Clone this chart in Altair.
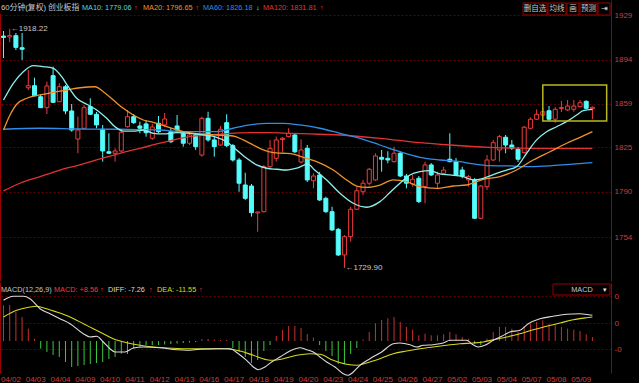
import altair as alt
import pandas as pd

# ---------------- data ----------------
dates = ["04/02", "04/03", "04/04", "04/09", "04/10", "04/11", "04/12", "04/13",
         "04/16", "04/17", "04/18", "04/19", "04/20", "04/23", "04/24", "04/25",
         "04/26", "04/27", "05/02", "05/03", "05/04", "05/07", "05/08", "05/09"]

opens = [1912.5, 1911.8, 1912.8, 1903.3, 1871.8, 1873.4, 1864.7, 1856.1, 1881.3, 1860.8,
         1872.6, 1853.5, 1831.4, 1839.9, 1856.9, 1850.9, 1839.1, 1821.4, 1820.2, 1822.0,
         1841.1, 1849.0, 1841.7, 1843.3, 1832.0, 1843.8, 1842.5, 1837.2, 1841.7, 1835.9,
         1828.1, 1834.6, 1818.8, 1847.7, 1830.7, 1826.7, 1844.3, 1826.2, 1814.9, 1795.2,
         1794.4, 1773.2, 1774.2, 1809.6, 1816.2, 1831.0, 1833.3, 1834.6, 1813.3, 1824.1,
         1798.6, 1803.1, 1784.7, 1774.2, 1760.3, 1740.1, 1754.5, 1776.1, 1789.9, 1796.6,
         1799.2, 1817.0, 1816.2, 1813.6, 1820.2, 1802.3, 1796.0, 1800.5, 1793.9, 1811.0,
         1796.6, 1804.4, 1815.5, 1813.6, 1807.0, 1799.2, 1799.2, 1769.0, 1793.9, 1814.9,
         1822.8, 1832.8, 1826.7, 1823.3, 1820.7, 1839.9, 1847.0, 1850.3, 1853.7, 1847.0,
         1855.5, 1854.3, 1854.8, 1856.9, 1861.1, 1855.3]

closes = [1911.4, 1912.9, 1903.6, 1902.1, 1873.4, 1865.5, 1856.1, 1873.2, 1860.3, 1872.6,
          1853.5, 1838.5, 1838.5, 1856.1, 1850.9, 1842.5, 1822.0, 1820.2, 1822.0, 1836.7,
          1849.0, 1844.3, 1839.9, 1836.4, 1840.9, 1837.2, 1847.2, 1829.3, 1838.5, 1828.1,
          1834.6, 1825.4, 1847.7, 1830.7, 1825.4, 1839.1, 1826.2, 1814.9, 1796.6, 1784.7,
          1773.4, 1774.0, 1809.6, 1824.1, 1830.7, 1832.0, 1835.9, 1821.4, 1822.8, 1799.2,
          1802.3, 1783.4, 1774.2, 1759.8, 1740.1, 1754.5, 1776.1, 1790.7, 1796.6, 1807.6,
          1818.1, 1815.5, 1814.9, 1820.2, 1802.3, 1796.6, 1799.7, 1782.1, 1811.0, 1803.1,
          1803.1, 1807.0, 1813.6, 1803.1, 1802.3, 1801.8, 1769.0, 1794.4, 1814.9, 1828.5,
          1833.3, 1826.7, 1824.1, 1815.5, 1840.7, 1847.0, 1850.9, 1852.9, 1847.0, 1854.8,
          1856.2, 1857.4, 1857.4, 1860.0, 1855.6, 1856.4]

highs = [1916.5, 1918.22, 1914.9, 1914.9, 1885.8, 1879.7, 1866.9, 1876.6, 1888.4, 1875.3,
         1874.0, 1859.0, 1849.0, 1858.2, 1863.5, 1852.7, 1842.5, 1835.9, 1824.1, 1837.7,
         1854.3, 1851.1, 1845.1, 1846.4, 1843.3, 1849.6, 1851.9, 1840.1, 1850.3, 1837.7,
         1837.2, 1836.2, 1849.0, 1852.9, 1833.3, 1841.7, 1850.9, 1827.5, 1816.5, 1804.9,
         1796.0, 1774.0, 1811.0, 1830.7, 1833.3, 1833.0, 1839.9, 1836.2, 1831.2, 1826.7,
         1804.4, 1805.5, 1786.0, 1778.1, 1761.4, 1755.8, 1778.1, 1793.9, 1799.2, 1808.6,
         1820.2, 1822.8, 1821.8, 1825.4, 1821.2, 1803.9, 1803.1, 1802.3, 1813.6, 1812.5,
         1805.7, 1809.6, 1835.9, 1816.5, 1809.6, 1803.1, 1800.7, 1795.2, 1818.8, 1830.7,
         1834.6, 1834.6, 1830.7, 1825.1, 1841.7, 1848.5, 1854.8, 1855.9, 1857.4, 1856.6,
         1861.4, 1862.1, 1862.1, 1862.1, 1861.8, 1857.0]

lows = [1895.2, 1907.8, 1901.5, 1893.6, 1870.0, 1865.3, 1855.9, 1851.1, 1859.8, 1860.6,
        1850.9, 1837.2, 1820.2, 1839.3, 1850.3, 1839.9, 1813.6, 1819.6, 1813.6, 1821.2,
        1840.5, 1843.3, 1835.9, 1833.3, 1830.7, 1836.2, 1840.9, 1828.3, 1837.7, 1825.4,
        1826.7, 1822.8, 1817.5, 1829.3, 1817.5, 1825.9, 1825.1, 1813.6, 1789.9, 1783.4,
        1770.3, 1758.4, 1773.6, 1808.6, 1813.6, 1821.4, 1832.6, 1820.4, 1812.3, 1797.6,
        1792.6, 1782.6, 1773.2, 1759.0, 1739.3, 1729.9, 1750.6, 1775.5, 1787.3, 1795.2,
        1798.4, 1805.7, 1812.3, 1813.0, 1801.5, 1792.6, 1793.9, 1781.0, 1780.8, 1802.3,
        1792.6, 1803.9, 1813.0, 1802.3, 1800.5, 1793.9, 1768.4, 1768.4, 1791.3, 1814.1,
        1813.6, 1820.2, 1822.8, 1813.3, 1820.0, 1839.0, 1846.4, 1849.6, 1845.6, 1844.3,
        1852.7, 1853.5, 1852.9, 1856.2, 1855.1, 1847.0]

# moving-average lines (candle position, value)
ma10_pos = [0, 1.58, 3.19, 4.81, 6.42, 8.03, 9.39, 10.45, 11.81, 13.42, 15.03, 16.65, 17.98,
            19.32, 20.94, 22.55, 24.16, 25.77, 27.94, 30.08, 32.23, 34.39, 36.0, 37.61, 39.23,
            40.84, 42.45, 44.06, 45.68, 47.29, 49.1, 50.2, 52.13, 54.27, 56.42, 58.58, 60.73,
            62.34, 63.95, 65.56, 67.18, 68.79, 70.4, 72.02, 74.16, 75.77, 77.39, 79.55, 81.16,
            82.77, 84.39, 86.0, 87.61, 89.23, 90.84, 92.45, 93.52, 95]
ma10_val = [1862.1, 1875.3, 1884.4, 1889.2, 1888.4, 1887.1, 1880.5, 1872.6, 1863.5, 1858.8,
            1854.3, 1847.7, 1841.1, 1837.7, 1837.7, 1838.5, 1835.9, 1835.4, 1836.4, 1835.9,
            1834.6, 1832.8, 1829.3, 1822.8, 1816.2, 1811.0, 1808.4, 1807.6, 1807.0, 1808.4,
            1811.7, 1807.0, 1799.2, 1788.7, 1780.8, 1777.7, 1782.1, 1789.3, 1796.6, 1803.1,
            1805.7, 1806.5, 1803.9, 1803.1, 1801.8, 1799.2, 1800.5, 1804.4, 1807.0, 1809.6,
            1820.2, 1830.7, 1837.2, 1841.1, 1845.1, 1850.3, 1853.7, 1854.8]

ma20_pos = [0, 1.05, 2.13, 3.74, 5.89, 8.03, 10.19, 12.34, 14.76, 16.1, 17.71, 19.32, 20.94,
            22.55, 24.16, 26.32, 29.0, 31.69, 34.39, 37.06, 38.68, 40.29, 41.9, 43.52, 45.13,
            46.74, 48.35, 50.52, 53.19, 55.35, 56.97, 58.58, 60.73, 62.87, 65.03, 67.18, 69.87,
            72.55, 74.71, 77.39, 80.08, 82.77, 85.45, 88.15, 90.84, 93.26, 95]
ma20_val = [1838.5, 1850.3, 1858.8, 1863.5, 1866.1, 1868.2, 1870.0, 1871.8, 1872.6, 1868.7,
            1862.1, 1855.6, 1850.3, 1846.4, 1844.6, 1841.1, 1837.2, 1835.4, 1834.6, 1833.8,
            1830.7, 1826.7, 1822.8, 1820.7, 1820.2, 1819.6, 1817.0, 1813.6, 1807.0, 1799.2,
            1794.4, 1793.4, 1795.2, 1799.2, 1797.8, 1793.9, 1792.6, 1794.4, 1795.2, 1799.7,
            1801.8, 1807.0, 1814.9, 1821.4, 1828.1, 1833.3, 1837.2]

ma60_pos = [0, 5.89, 12.34, 18.79, 25.24, 29.0, 34.39, 37.06, 39.76, 42.45, 45.13, 47.82,
            51.05, 54.27, 57.5, 60.73, 63.95, 67.18, 70.4, 73.63, 75.24, 78.47, 81.69, 84.92,
            88.15, 91.37, 95]
ma60_val = [1839.1, 1839.9, 1839.3, 1839.1, 1838.5, 1837.2, 1837.2, 1839.9, 1842.5, 1843.8,
            1843.8, 1842.5, 1839.9, 1835.9, 1832.0, 1826.7, 1821.4, 1817.0, 1814.9, 1813.6,
            1812.3, 1810.4, 1810.2, 1809.6, 1810.2, 1811.5, 1812.8]

ma120_pos = [0, 2.66, 5.89, 9.11, 12.34, 15.56, 18.79, 22.02, 25.24, 30.08, 33.31, 36.53,
             39.76, 43.0, 46.21, 49.44, 54.27, 60.73, 67.18, 72.02, 78.47, 84.92, 95]
ma120_val = [1790.5, 1796.6, 1801.8, 1807.0, 1811.0, 1815.7, 1820.2, 1824.1, 1828.1, 1833.3,
             1834.6, 1835.9, 1836.4, 1836.4, 1835.9, 1835.4, 1834.6, 1832.0, 1828.5, 1826.7,
             1824.9, 1824.1, 1824.1]

macd_hist = [35.7, 36, 29, 24, 12.3, 2.3, -7.7, -11, -14, -16, -21, -26, -25, -24, -23, -22,
             -21, -18, -16, -12.7, -13, -7.7, -6, -4.3, -4, -4, -3.5, -3, -2.5, -2, -1.5, -1,
             2, 2, 1.5, 1, 1, -7, -11, -16, -22, -19, -10, -4, 5, 11, 15, 15, 13, 7, 3.5, -4,
             -10, -15, -23, -23, -13, -7, 1.5, 9, 17.7, 21, 22.7, 24, 19, 14, 11.3, 5.7, 7.3,
             5.7, 5.7, 6.7, 9, 6.7, 4, 2.3, -2.7, -4.3, 2.3, 9, 14, 14, 12.3, 9, 14.7, 17.3,
             19, 20.7, 17.3, 15.7, 14, 12.3, 11.3, 10, 6.7, 4]

diff_pos = [0, 1.59, 3.2, 4.27, 5.89, 7.5, 9.11, 10.73, 12.88, 13.95, 15.03, 16.1, 17.18,
            17.98, 19.6, 20.94, 22.55, 25.24, 27.93, 29.54, 31.69, 34.38, 36.53, 37.88, 39.22,
            40.3, 41.1, 42.18, 43.25, 44.6, 46.21, 47.82, 48.9, 50.24, 51.05, 52.13, 53.47,
            54.81, 55.62, 56.43, 57.5, 59.11, 61.0, 62.88, 63.95, 65.57, 66.64, 67.72, 69.33,
            70.94, 72.02, 74.71, 75.51, 76.59, 77.66, 79.01, 80.35, 81.69, 83.31, 84.65, 86.53,
            88.68, 90.83, 92.98, 95]
diff_val = [40.7, 44.7, 44.7, 42.3, 32.3, 27.3, 22.3, 17.3, 7.3, 4.0, 4.7, -1.0, -7.7, -11.0,
            -11.0, -7.0, -6.0, -6.7, -8.7, -9.3, -8.3, -7.7, -7.7, -12.7, -19.3, -26.0, -28.7,
            -26.0, -21.0, -16.0, -10.0, -6.7, -8.7, -12.0, -16.0, -21.0, -26.0, -32.7, -34.3,
            -31.0, -24.3, -17.7, -11.0, -2.7, -2.0, -3.7, -6.0, -4.3, -3.7, -2.0, 0.7, 0.7,
            -2.7, -6.0, -4.3, 0.7, 4.7, 9.0, 10.7, 17.3, 22.3, 24.7, 26.7, 27.3, 25.7]

dea_pos = [0, 2.12, 4.27, 5.35, 6.96, 8.57, 10.73, 12.88, 14.49, 16.1, 17.71, 19.86, 22.02,
           24.17, 26.32, 29.54, 32.77, 36.0, 38.15, 40.3, 42.45, 43.52, 45.13, 47.28, 49.43,
           51.05, 53.2, 55.35, 56.96, 58.58, 60.73, 62.88, 65.03, 67.18, 69.33, 71.48, 73.63,
           75.78, 77.39, 79.01, 81.16, 83.31, 85.46, 87.61, 89.76, 91.91, 94.06, 95]
dea_val = [24.0, 30.7, 34.0, 34.7, 32.3, 29.0, 24.0, 17.3, 12.3, 7.3, 2.3, -1.7, -4.3, -6.0,
           -7.0, -7.7, -7.7, -7.7, -10.0, -14.3, -18.7, -19.3, -17.7, -14.3, -12.7, -13.3,
           -19.3, -23.3, -24.3, -22.0, -17.7, -12.7, -10.0, -7.7, -6.0, -4.3, -2.7, -2.0, -1.0,
           1.3, 4.0, 7.3, 11.3, 14.7, 18.0, 21.3, 23.3, 24.0]

price_ticks = [1929, 1894, 1859, 1825, 1790, 1754]
macd_ticks = [45, 18, -8]
box_pos = [87.0, 97.3]
box_price = [1845.6, 1874.0]

# ---------------- styling ----------------
BG = "#000000"
RED = "#f03c3c"
CYAN = "#54fcfc"
C_MA10 = "#8ef0ea"
C_MA20 = "#f0922a"
C_MA60 = "#2f8de8"
C_MA120 = "#e23232"
AXIS_RED = "#d23c3c"
FRAME = "#9a0000"
GRID = "#5a0000"
FONT = "Liberation Sans, Noto Sans CJK SC"
FS = 7.3
W = 611
H1 = 281
H2 = 90

xscale = alt.Scale(domain=[-0.565, 98.0], nice=False, zero=False, padding=0)
pscale = alt.Scale(domain=[1719.6, 1940.9], nice=False, zero=False, padding=0)
mscale = alt.Scale(domain=[-32, 58], nice=False, zero=False, padding=0)

n = len(opens)
candles = pd.DataFrame({
    "idx": list(range(n)), "open": opens, "close": closes, "high": highs, "low": lows,
    "dir": ["up" if c >= o else "down" for o, c in zip(opens, closes)],
})

X = alt.X("idx:Q", scale=xscale, axis=None)


def one():
    return alt.Data(values=[{}])


def label(text, x, y, color, size=FS, align="left", baseline="middle"):
    return alt.Chart(one()).mark_text(
        text=text, color=color, fontSize=size, font=FONT, align=align, baseline=baseline
    ).encode(x=alt.value(x), y=alt.value(y))


def box(x1, x2, y1, y2, color=FRAME):
    return alt.Chart(one()).mark_rect(fillOpacity=0, stroke=color, strokeWidth=1).encode(
        x=alt.value(x1), x2=alt.value(x2), y=alt.value(y1), y2=alt.value(y2))


yaxis_main = alt.Axis(orient="right", values=price_ticks, format=".0f", labelColor=AXIS_RED,
                      labelFont=FONT, labelFontSize=8, tickSize=0, labelPadding=3,
                      domainColor=FRAME, grid=True, gridColor=GRID, gridDash=[2, 2],
                      title=None)

wicks = alt.Chart(candles).mark_rule(strokeWidth=1).encode(
    x=alt.X("idx:Q", scale=xscale,
            axis=alt.Axis(labels=False, ticks=False, grid=False, domainColor=FRAME, title=None)),
    y=alt.Y("low:Q", scale=pscale, axis=yaxis_main),
    y2="high:Q",
    color=alt.Color("dir:N", scale=alt.Scale(domain=["up", "down"], range=[RED, CYAN]), legend=None),
)
bodies = alt.Chart(candles).mark_bar(size=4, strokeWidth=1).encode(
    x=X, y=alt.Y("open:Q", scale=pscale), y2="close:Q",
    fill=alt.condition("datum.dir == 'up'", alt.value(BG), alt.value(CYAN)),
    stroke=alt.condition("datum.dir == 'up'", alt.value(RED), alt.value(CYAN)),
)


def ma_line(pos, val, color):
    df = pd.DataFrame({"idx": pos, "v": val})
    return alt.Chart(df).mark_line(color=color, strokeWidth=1.3, interpolate="monotone").encode(
        x=X, y=alt.Y("v:Q", scale=pscale))


hi_df = pd.DataFrame({"idx": [1], "v": [highs[1]], "t": ["\u2190" + "1918.22"]})
lo_df = pd.DataFrame({"idx": [55], "v": [lows[55]], "t": ["\u2190" + "1729.90"]})
hi_txt = alt.Chart(hi_df).mark_text(align="left", dx=1, color="#c8c8c8", fontSize=8, font=FONT).encode(
    x=X, y=alt.Y("v:Q", scale=pscale), text="t:N")
lo_txt = alt.Chart(lo_df).mark_text(align="left", dx=1, color="#c8c8c8", fontSize=8, font=FONT).encode(
    x=X, y=alt.Y("v:Q", scale=pscale), text="t:N")

box_df = pd.DataFrame({"x1": [box_pos[0]], "x2": [box_pos[1]], "y1": [box_price[0]], "y2": [box_price[1]]})
ybox = alt.Chart(box_df).mark_rect(fillOpacity=0, stroke="#b8b81e", strokeWidth=1.5).encode(
    x=alt.X("x1:Q", scale=xscale), x2="x2:Q", y=alt.Y("y1:Q", scale=pscale), y2="y2:Q")

left_main = alt.Chart(one()).mark_rule(color=FRAME, strokeWidth=1).encode(
    x=alt.value(0.5), y=alt.value(14), y2=alt.value(H1))

header = [
    label("60分钟(复权)", 1, 8, "#c8c8c8", size=7.8),
    label("创业板指", 48, 8, "#c8c8c8", size=7.8),
    label("MA10: 1779.06", 82, 8, "#5cd6d2"),
    label("\u2191", 134, 8, RED),
    label("MA20: 1796.65", 143, 8, C_MA20),
    label("\u2191", 195.5, 8, RED),
    label("MA60: 1826.18", 203, 8, C_MA60),
    label("\u2193", 256, 8, CYAN),
    label("MA120: 1831.81", 263, 8, C_MA120),
    label("\u2191", 320, 8, RED),
    box(523, 547, 3, 15), label("删自选", 535, 9, "#c8c8c8", size=7.5, align="center"),
    box(548, 566, 3, 15), label("均线", 557, 9, "#c8c8c8", size=7.5, align="center"),
    box(567, 579, 3, 15), label("画", 573, 9, "#c8c8c8", size=7.5, align="center"),
    box(580, 597, 3, 15), label("预测", 588.5, 9, "#c8c8c8", size=7.5, align="center"),
    box(598, 610, 3, 15), label("\u21e5", 604, 9, "#e0e0e0", size=8, align="center"),
]

main = alt.layer(
    wicks, bodies,
    ma_line(ma120_pos, ma120_val, C_MA120),
    ma_line(ma60_pos, ma60_val, C_MA60),
    ma_line(ma20_pos, ma20_val, C_MA20),
    ma_line(ma10_pos, ma10_val, C_MA10),
    ybox, hi_txt, lo_txt, left_main, *header,
).properties(width=W, height=H1)

# ---------------- MACD panel ----------------
mdf = pd.DataFrame({"idx": list(range(n)), "h": macd_hist})
xaxis_macd = alt.Axis(labels=False, ticks=False, grid=False, domainColor=FRAME, title=None)
yaxis_macd = alt.Axis(orient="right", values=macd_ticks,
                      labelExpr="datum.value < 0 ? '-0' : '0'",
                      labelColor=AXIS_RED, labelFont=FONT, labelFontSize=8, tickSize=0,
                      labelPadding=3, domainColor=FRAME, grid=True, gridColor=GRID,
                      gridDash=[2, 2], title=None)

hist = alt.Chart(mdf).mark_rule(strokeWidth=1).encode(
    x=alt.X("idx:Q", scale=xscale, axis=xaxis_macd),
    y=alt.Y("h:Q", scale=mscale, axis=yaxis_macd),
    y2=alt.datum(0),
    color=alt.condition("datum.h > 0", alt.value("#c83030"), alt.value("#3cc83c")),
)
dea_line = alt.Chart(pd.DataFrame({"idx": dea_pos, "v": dea_val})).mark_line(
    color="#d8d81c", strokeWidth=1.1, interpolate="monotone").encode(
    x=X, y=alt.Y("v:Q", scale=mscale))
diff_line = alt.Chart(pd.DataFrame({"idx": diff_pos, "v": diff_val})).mark_line(
    color="#dcdcdc", strokeWidth=1.1, interpolate="monotone").encode(
    x=X, y=alt.Y("v:Q", scale=mscale))

# date labels: one per trading day, placed at the day's first candles
date_df = pd.DataFrame({"idx": [1.2 + 4 * k for k in range(len(dates))], "d": dates})
date_txt = alt.Chart(date_df).mark_text(
    color=AXIS_RED, fontSize=8, font=FONT, align="center", baseline="middle"
).encode(x=X, y=alt.value(H2 + 6.5), text="d:N")

left_macd = alt.Chart(one()).mark_rule(color=FRAME, strokeWidth=1).encode(
    x=alt.value(0.5), y=alt.value(0), y2=alt.value(H2))

macd_header = [
    label("MACD(12,26,9)", 1, 7, "#c8c8c8"),
    label("MACD: +8.56", 54, 7, RED),
    label("\u2191", 100, 7, RED),
    label("DIFF: -7.26", 108, 7, "#d8d8d8"),
    label("\u2191", 149, 7, RED),
    label("DEA: -11.55", 157, 7, "#d8d81c"),
    label("\u2191", 199, 7, RED),
    box(553, 610, 1, 12),
    label("MACD", 582, 6.5, "#c8c8c8", align="center"),
    label("\u25be", 605, 6.5, "#e0e0e0", align="center"),
]

macd = alt.layer(hist, dea_line, diff_line, date_txt, left_macd, *macd_header).properties(
    width=W, height=H2)

chart = alt.vconcat(main, macd, spacing=0).properties(
    background=BG, padding={"left": 0, "top": 0, "right": 7, "bottom": 0}
).configure_view(stroke=None).configure_concat(spacing=0)

chart.save("out.html", embed_options={"renderer": "svg", "actions": False})
